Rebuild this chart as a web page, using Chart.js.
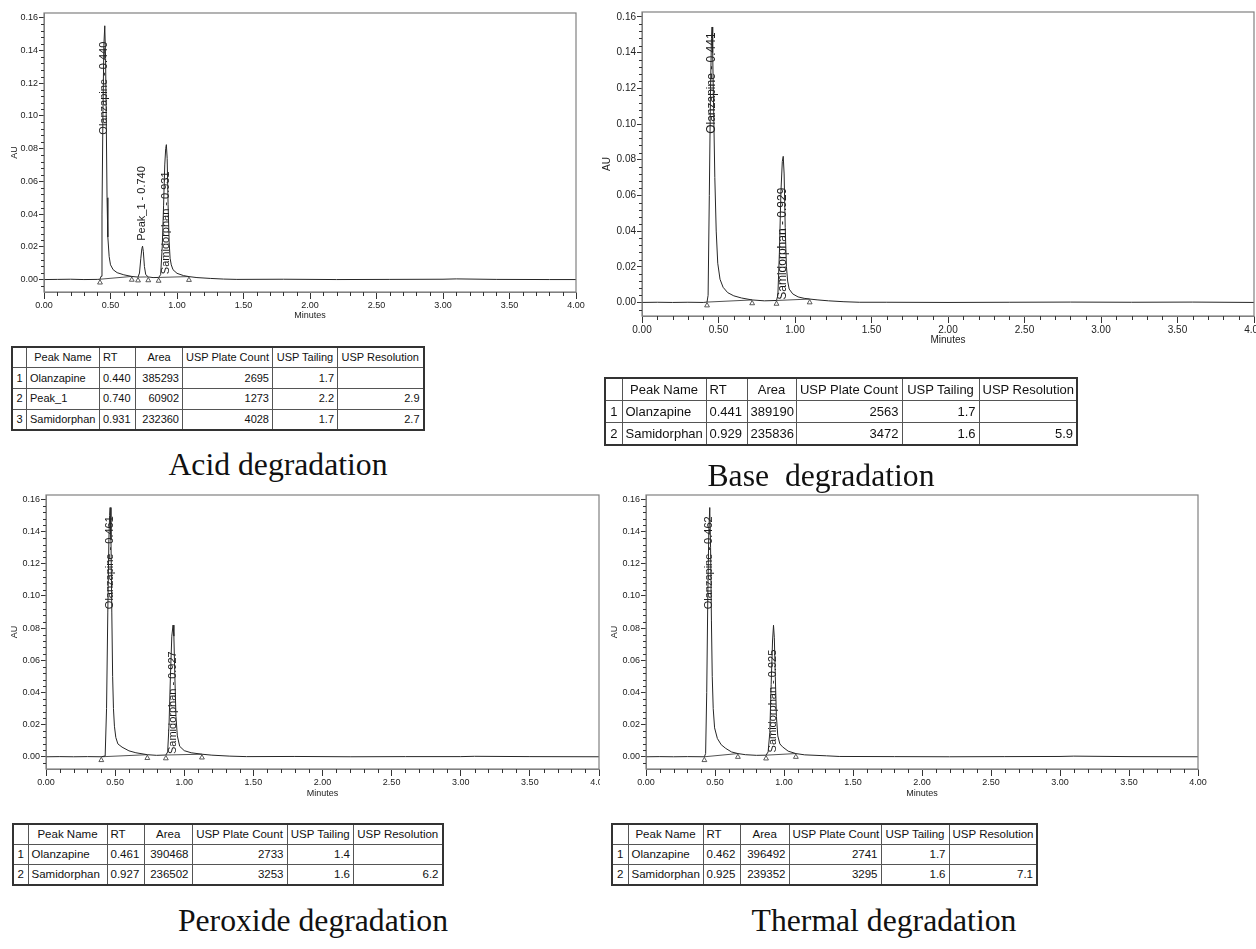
<!DOCTYPE html>
<html>
<head>
<meta charset="utf-8">
<title>Forced degradation chromatograms</title>
<script src="https://cdn.jsdelivr.net/npm/chart.js@4.4.1/dist/chart.umd.min.js"></script>
<style>
  html, body { margin: 0; padding: 0; background: #fff; }
  body { position: relative; width: 1256px; height: 949px; overflow: hidden; }
  .plot { position: absolute; overflow: hidden; }
  .plot canvas { display: block; }
  table.peaks { position: absolute; border-collapse: collapse; table-layout: fixed;
    font-family: "Liberation Sans", Arial, sans-serif; color: #111; border: 2px solid #333; }
  table.peaks td { border: 1px solid #555; padding: 0 3px; white-space: nowrap; overflow: hidden; line-height: 1; }
  .caption { position: absolute; width: 400px; text-align: center; white-space: pre;
    font-family: "Liberation Serif", "Times New Roman", serif; font-size: 31.7px; line-height: 32px; color: #111; }
</style>
</head>
<body>
<div class="plot" style="left:0;top:0;width:600px;height:324px"><canvas id="acid" width="600" height="324"></canvas></div>
<div class="plot" style="left:592px;top:0;width:664px;height:350px"><canvas id="base" width="690" height="350"></canvas></div>
<div class="plot" style="left:0;top:482px;width:600px;height:320px"><canvas id="peroxide" width="620" height="320"></canvas></div>
<div class="plot" style="left:600px;top:482px;width:620px;height:320px"><canvas id="thermal" width="620" height="320"></canvas></div>

<div class="caption" style="left:78px;top:449px">Acid degradation</div>
<div class="caption" style="left:621px;top:460px">Base  degradation</div>
<div class="caption" style="left:113px;top:905px">Peroxide degradation</div>
<div class="caption" style="left:684px;top:905px">Thermal degradation</div>

<script>
// ---- acid degradation ----
const acidTime = [0, 0.1, 0.2, 0.3, 0.4, 0.421, 0.429, 0.436, 0.443, 0.45, 0.457, 0.463, 0.469, 0.474, 0.48,
  0.49, 0.50, 0.52, 0.55, 0.60, 0.66, 0.707, 0.718, 0.728, 0.736, 0.741, 0.747, 0.755, 0.765, 0.784,
  0.82, 0.862, 0.877, 0.889, 0.899, 0.908, 0.915, 0.92, 0.926, 0.933, 0.941, 0.948, 0.957, 0.97, 1.0,
  1.05, 1.09, 1.15, 1.25, 1.35, 1.45, 1.8, 2.2, 2.6, 3.0, 3.1, 3.4, 3.8, 4.0];
const acidAU = [0, 0.0001, 0.0002, 0, 0.0001, 0.0002, 0.002, 0.04, 0.10, 0.143, 0.155, 0.135, 0.09, 0.05, 0.026,
  0.014, 0.009, 0.006, 0.0042, 0.0029, 0.0019, 0.0015, 0.004, 0.013, 0.019, 0.0204, 0.017, 0.008, 0.003, 0.0016,
  0.0012, 0.0013, 0.003, 0.02, 0.045, 0.07, 0.08, 0.0824, 0.074, 0.046, 0.023, 0.013, 0.009, 0.006, 0.0038,
  0.0024, 0.0018, 0.0012, 0.0007, 0.0003, 0.0001, 0.0002, 0, 0.0001, 0.0002, 0.0004, 0.0001, 0, 0];
const acidMarkTime = [0.421, 0.66, 0.707, 0.784, 0.862, 1.09];
const acidMarkAU = [0.0002, 0.0019, 0.0015, 0.0016, 0.0013, 0.0018];
const acidPeaks = ['Olanzapine', 'Peak_1', 'Samidorphan'];
const acidRT = [0.440, 0.740, 0.931];
const acidArea = [385293, 60902, 232360];
const acidPlates = [2695, 1273, 4028];
const acidTailing = [1.7, 2.2, 1.7];
const acidResolution = [null, 2.9, 2.7];

// ---- base degradation ----
const baseTime = [0, 0.1, 0.2, 0.3, 0.4, 0.425, 0.432, 0.44, 0.448, 0.454, 0.458, 0.462, 0.468, 0.476, 0.485,
  0.495, 0.51, 0.53, 0.56, 0.60, 0.65, 0.72, 0.80, 0.879, 0.888, 0.898, 0.908, 0.917, 0.923, 0.929,
  0.936, 0.944, 0.952, 0.962, 0.985, 1.02, 1.06, 1.096, 1.15, 1.22, 1.32, 1.42, 1.6, 2.0, 2.4,
  2.8, 3.2, 3.6, 4.0];
const baseAU = [0, 0.0001, 0, 0.0001, 0, 0.0002, 0.004, 0.06, 0.12, 0.148, 0.1544, 0.14, 0.11, 0.07, 0.04,
  0.022, 0.013, 0.0085, 0.0055, 0.0037, 0.0025, 0.0014, 0.0009, 0.0011, 0.004, 0.028, 0.062, 0.079, 0.0819, 0.072,
  0.042, 0.02, 0.012, 0.0075, 0.0048, 0.0031, 0.0023, 0.0019, 0.0014, 0.0009, 0.0004, 0.0001, 0.0001, 0, 0.0001,
  0.0002, 0.0001, 0.0002, 0];
const baseMarkTime = [0.425, 0.72, 0.879, 1.096];
const baseMarkAU = [0.0002, 0.0014, 0.0011, 0.0019];
const basePeaks = ['Olanzapine', 'Samidorphan'];
const baseRT = [0.441, 0.929];
const baseArea = [389190, 235836];
const basePlates = [2563, 3472];
const baseTailing = [1.7, 1.6];
const baseResolution = [null, 5.9];

// ---- peroxide degradation ----
const peroxideTime = [0, 0.1, 0.2, 0.3, 0.40, 0.428, 0.438, 0.447, 0.455, 0.460, 0.464, 0.470, 0.476, 0.482, 0.488,
  0.495, 0.505, 0.52, 0.55, 0.60, 0.65, 0.733, 0.80, 0.867, 0.88, 0.89, 0.90, 0.91, 0.919, 0.925,
  0.932, 0.94, 0.95, 0.967, 1.0, 1.05, 1.128, 1.2, 1.33, 1.45, 1.8, 2.2, 2.6, 3.0, 3.1,
  3.5, 4.0];
const peroxideAU = [0, 0.0001, 0, 0.0001, 0, 0.0005, 0.03, 0.09, 0.135, 0.15, 0.155, 0.135, 0.09, 0.05, 0.03,
  0.019, 0.012, 0.008, 0.006, 0.0037, 0.0025, 0.0013, 0.0009, 0.0011, 0.003, 0.02, 0.05, 0.075, 0.0819, 0.075,
  0.05, 0.025, 0.013, 0.0065, 0.0038, 0.0025, 0.0016, 0.001, 0.0004, 0.0001, 0.0002, 0, 0.0001, 0.0001, 0.0003,
  0.0001, 0];
const peroxideMarkTime = [0.40, 0.733, 0.867, 1.128];
const peroxideMarkAU = [0, 0.0013, 0.0011, 0.0016];
const peroxidePeaks = ['Olanzapine', 'Samidorphan'];
const peroxideRT = [0.461, 0.927];
const peroxideArea = [390468, 236502];
const peroxidePlates = [2733, 3253];
const peroxideTailing = [1.4, 1.6];
const peroxideResolution = [null, 6.2];

// ---- thermal degradation ----
const thermalTime = [0, 0.1, 0.2, 0.3, 0.423, 0.432, 0.44, 0.448, 0.455, 0.462, 0.468, 0.474, 0.48, 0.487, 0.497,
  0.517, 0.545, 0.578, 0.62, 0.666, 0.72, 0.80, 0.87, 0.885, 0.897, 0.907, 0.917, 0.924, 0.93, 0.937,
  0.945, 0.955, 0.97, 0.989, 1.03, 1.086, 1.15, 1.308, 1.40, 1.8, 2.2, 2.6, 3.0, 3.1, 3.5,
  4.0];
const thermalAU = [0, 0.0001, 0, 0.0001, 0, 0.002, 0.04, 0.10, 0.14, 0.155, 0.13, 0.085, 0.05, 0.03, 0.018,
  0.0114, 0.0075, 0.0052, 0.003, 0.002, 0.0013, 0.0009, 0.001, 0.003, 0.015, 0.045, 0.072, 0.0818, 0.074, 0.05,
  0.025, 0.013, 0.008, 0.0062, 0.0035, 0.002, 0.0012, 0.0006, 0.0002, 0.0001, 0, 0.0001, 0.0002, 0.0004, 0.0001,
  0];
const thermalMarkTime = [0.423, 0.666, 0.87, 1.086];
const thermalMarkAU = [0, 0.002, 0.001, 0.002];
const thermalPeaks = ['Olanzapine', 'Samidorphan'];
const thermalRT = [0.462, 0.925];
const thermalArea = [396492, 239352];
const thermalPlates = [2741, 3295];
const thermalTailing = [1.7, 1.6];
const thermalResolution = [null, 7.1];

const tableHeader = ['', 'Peak Name', 'RT', 'Area', 'USP Plate Count', 'USP Tailing', 'USP Resolution'];

const FONT = "'Liberation Sans', Arial, sans-serif";

// frame round the plot area + the small minor ticks
const framePlugin = {
  id: 'frame',
  afterDraw(chart) {
    const { ctx, chartArea: a, scales: { x, y } } = chart;
    ctx.save();
    ctx.strokeStyle = '#808080';
    ctx.lineWidth = 1.2;
    ctx.strokeRect(a.left, a.top, a.right - a.left, a.bottom - a.top);
    ctx.strokeStyle = '#333';
    ctx.lineWidth = 1;
    ctx.beginPath();
    for (let i = 1; i < 40; i++) {
      if (i % 5 === 0) continue;
      const px = Math.round(x.getPixelForValue(i / 10)) + 0.5;
      ctx.moveTo(px, a.bottom);
      ctx.lineTo(px, a.bottom + 4);
    }
    for (let i = -1; i <= 40; i++) {
      if (i % 5 === 0) continue;
      const py = Math.round(y.getPixelForValue(i * 0.004)) + 0.5;
      ctx.moveTo(a.left - 3, py);
      ctx.lineTo(a.left, py);
    }
    ctx.stroke();
    ctx.restore();
  }
};

function labelPlugin(items, size) {
  return {
    id: 'peakLabels',
    beforeDatasetsDraw(chart) {
      const { ctx, scales: { x, y } } = chart;
      ctx.save();
      ctx.fillStyle = '#1a1a1a';
      ctx.font = size + 'px ' + FONT;
      ctx.textAlign = 'left';
      ctx.textBaseline = 'middle';
      items.forEach(it => {
        ctx.save();
        ctx.translate(x.getPixelForValue(it.x) - 0.5, y.getPixelForValue(it.y));
        ctx.rotate(-Math.PI / 2);
        ctx.fillText(it.text, 0, 0);
        ctx.restore();
      });
      ctx.restore();
    }
  };
}

// little triangles where the integration starts / stops
function markPlugin(markTime, markAU) {
  return {
    id: 'peakMarks',
    afterDatasetsDraw(chart) {
      const { ctx, scales: { x, y } } = chart;
      ctx.save();
      ctx.strokeStyle = '#333';
      ctx.fillStyle = '#fff';
      ctx.lineWidth = 0.8;
      markTime.forEach((t, i) => {
        const px = x.getPixelForValue(t);
        const py = y.getPixelForValue(markAU[i]);
        ctx.beginPath();
        ctx.moveTo(px, py + 0.5);
        ctx.lineTo(px - 2.4, py + 4.8);
        ctx.lineTo(px + 2.4, py + 4.8);
        ctx.closePath();
        ctx.fill();
        ctx.stroke();
      });
      ctx.restore();
    }
  };
}

function chromatogram(id, time, au, markTime, markAU, names, rt, cfg) {
  const trace = time.map((t, i) => ({ x: t, y: au[i] }));
  const baselines = [];
  for (let i = 0; i + 1 < markTime.length; i += 2) {
    baselines.push({ x: markTime[i], y: markAU[i] }, { x: markTime[i + 1], y: markAU[i + 1] }, { x: markTime[i + 1], y: null });
  }
  const labels = names.map((n, i) => {
    let best = 0;
    time.forEach((t, j) => {
      if (Math.abs(t - rt[i]) < 0.05 && au[j] > au[best]) best = j;
    });
    return { text: n + ' - ' + rt[i].toFixed(3), x: time[best], y: cfg.labelBase[i] };
  });
  const tickFont = { family: FONT, size: cfg.tick };

  new Chart(document.getElementById(id), {
    type: 'line',
    data: {
      datasets: [
        { data: trace, borderColor: '#262626', borderWidth: 1, pointRadius: 0, tension: 0 },
        { data: baselines, borderColor: '#262626', borderWidth: 0.8, pointRadius: 0, spanGaps: false }
      ]
    },
    options: {
      responsive: false,
      animation: false,
      events: [],
      layout: { padding: { top: cfg.top, right: cfg.right, left: 0, bottom: 0 } },
      plugins: { legend: { display: false }, tooltip: { enabled: false } },
      scales: {
        x: {
          type: 'linear', min: 0, max: 4,
          afterFit: s => { s.height = cfg.xHeight; },
          ticks: { stepSize: 0.5, autoSkip: false, maxRotation: 0, padding: 1, color: '#222', font: tickFont,
            callback: v => v.toFixed(2) },
          grid: { drawOnChartArea: false, tickLength: 7, color: '#333' },
          border: { color: '#808080' },
          title: { display: true, text: 'Minutes', color: '#222', font: tickFont, padding: { top: 0, bottom: 3.5 } }
        },
        y: {
          type: 'linear', min: -0.0076, max: 0.1628,
          afterFit: s => { s.width = cfg.yWidth; },
          ticks: { stepSize: 0.02, includeBounds: false, padding: 1, color: '#222', font: tickFont,
            callback: v => v.toFixed(2) },
          grid: { drawOnChartArea: false, tickLength: 5, color: '#333' },
          border: { color: '#808080' },
          title: { display: true, text: 'AU', color: '#222', font: tickFont, padding: { top: 9.5, bottom: 0 } }
        }
      }
    },
    plugins: [framePlugin, labelPlugin(labels, cfg.label), markPlugin(markTime, markAU)]
  });
}

function peakTable(spec, names, rt, area, plates, tailing, resolution) {
  const t = document.createElement('table');
  t.className = 'peaks';
  t.style.left = spec.left + 'px';
  t.style.top = spec.top + 'px';
  t.style.fontSize = spec.font + 'px';
  t.style.width = spec.cols.reduce((s, w) => s + w, 0) + 'px';
  const cg = document.createElement('colgroup');
  spec.cols.forEach(w => {
    const c = document.createElement('col');
    c.style.width = w + 'px';
    cg.appendChild(c);
  });
  t.appendChild(cg);
  const rows = [tableHeader].concat(names.map((n, i) => [
    String(i + 1), n, rt[i].toFixed(3), String(area[i]), String(plates[i]),
    tailing[i].toFixed(1), resolution[i] == null ? '' : resolution[i].toFixed(1)
  ]));
  rows.forEach((r, ri) => {
    const tr = t.insertRow();
    tr.style.height = spec.row + 'px';
    r.forEach((v, ci) => {
      const td = tr.insertCell();
      td.textContent = v;
      if (ri === 0) td.style.textAlign = ci === 2 ? 'left' : 'center';
      else td.style.textAlign = ci === 0 ? 'center' : (ci < 3 ? 'left' : 'right');
    });
  });
  document.body.appendChild(t);
}

chromatogram('acid', acidTime, acidAU, acidMarkTime, acidMarkAU, acidPeaks, acidRT,
  { top: 13, right: 24, yWidth: 44, xHeight: 32, tick: 9, label: 11, labelBase: [0.0885, 0.0237, 0.0033] });
chromatogram('base', baseTime, baseAU, baseMarkTime, baseMarkAU, basePeaks, baseRT,
  { top: 12, right: 28, yWidth: 50, xHeight: 34, tick: 10, label: 12, labelBase: [0.0945, 0.0015] });
chromatogram('peroxide', peroxideTime, peroxideAU, peroxideMarkTime, peroxideMarkAU, peroxidePeaks, peroxideRT,
  { top: 13, right: 21, yWidth: 46, xHeight: 33, tick: 9, label: 11, labelBase: [0.0918, 0.0017] });
chromatogram('thermal', thermalTime, thermalAU, thermalMarkTime, thermalMarkAU, thermalPeaks, thermalRT,
  { top: 13, right: 22, yWidth: 46, xHeight: 33, tick: 9, label: 11, labelBase: [0.0917, 0.0027] });

peakTable({ left: 11, top: 346, font: 11, row: 20.7, cols: [14.5, 73, 36, 47, 90, 65, 86] },
  acidPeaks, acidRT, acidArea, acidPlates, acidTailing, acidResolution);
peakTable({ left: 604, top: 377, font: 13, row: 22.3, cols: [17, 84, 41, 49, 106, 77, 98] },
  basePeaks, baseRT, baseArea, basePlates, baseTailing, baseResolution);
peakTable({ left: 12, top: 823, font: 11.5, row: 20.3, cols: [15, 79, 37.5, 47.5, 95, 66.5, 89] },
  peroxidePeaks, peroxideRT, peroxideArea, peroxidePlates, peroxideTailing, peroxideResolution);
peakTable({ left: 611, top: 823, font: 11.5, row: 20.3, cols: [16, 75, 37.5, 48.5, 92, 68, 88] },
  thermalPeaks, thermalRT, thermalArea, thermalPlates, thermalTailing, thermalResolution);
</script>
</body>
</html>
